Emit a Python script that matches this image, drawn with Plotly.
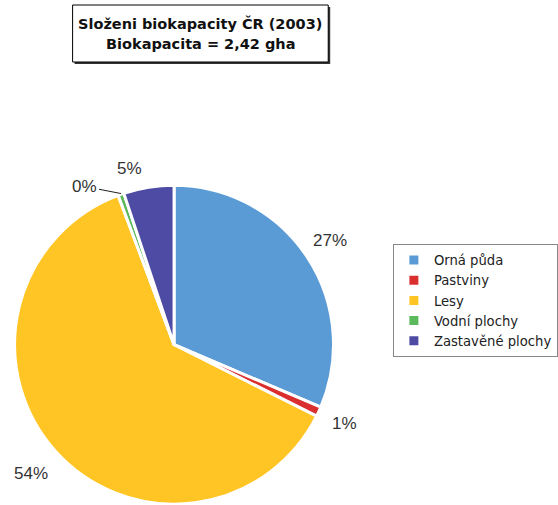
import math
import plotly.graph_objects as go

# Data (slice shares; labels as printed in the chart)
categories = ["Orná půda", "Pastviny", "Lesy", "Vodní plochy", "Zastavěné plochy"]
shares = [31.4, 1.0, 61.9, 0.6, 5.1]
label_texts = ["27%", "1%", "54%", "0%", "5%"]
colors = ["#5B9BD5", "#D9302F", "#FFC525", "#5BB85B", "#4E4BA5"]
title_line1 = "Složeni biokapacity ČR (2003)"
title_line2 = "Biokapacita = 2,42 gha"

# label placement style (extra radius in px, angle nudge in degrees, leader line?)
label_extra_r = [28, 28, 33, 0, 21]
label_nudge_deg = [0, 0, 0, 0, -5]
label_leader = [False, False, False, True, False]

W, H = 558, 505
CX, R = 175.0, 160.3
DOM_Y = [0.0, 2 * R / H]
CY = H - R  # pixel from top
DOM_X = [(CX - R) / W, (CX + R) / W]

fig = go.Figure()
fig.add_trace(go.Pie(
    labels=categories,
    values=shares,
    textinfo="none",
    marker=dict(colors=colors, line=dict(color="white", width=3)),
    sort=False,
    direction="clockwise",
    rotation=0,
    hoverinfo="skip",
    domain=dict(x=DOM_X, y=DOM_Y),
))

# slice labels placed at each slice's mid-angle (derived from the data)
total = sum(shares)
cum = 0.0
lab_font = dict(family="Liberation Sans, Arial", size=17, color="#333333")
for v, t, er, nd, lead in zip(shares, label_texts, label_extra_r, label_nudge_deg, label_leader):
    mid = (cum + v / 2) / total * 360.0
    cum += v
    if lead:
        a = math.radians(mid)
        px = CX + R * math.sin(a)
        py = CY - R * math.cos(a)
        fig.add_annotation(x=px / W, y=1 - py / H, xref="paper", yref="paper",
                           text=t, showarrow=True, arrowhead=0, arrowwidth=1,
                           arrowcolor="#222222", ax=-36, ay=-7, standoff=0,
                           font=lab_font)
    else:
        a = math.radians(mid + nd)
        rr = R + er
        px = CX + rr * math.sin(a)
        py = CY - rr * math.cos(a)
        fig.add_annotation(x=px / W, y=1 - py / H, xref="paper", yref="paper",
                           text=t, showarrow=False, xanchor="center", yanchor="middle",
                           font=lab_font)

# title box with shadow
fig.add_shape(type="rect", xref="paper", yref="paper",
              x0=75 / W, x1=332 / W, y0=1 - 64 / H, y1=1 - 7 / H,
              fillcolor="#333333", line=dict(width=0))
fig.add_shape(type="rect", xref="paper", yref="paper",
              x0=73 / W, x1=330 / W, y0=1 - 62 / H, y1=1 - 5 / H,
              fillcolor="white", line=dict(color="black", width=1))
fig.add_annotation(x=201.5 / W, y=1 - 23 / H, xref="paper", yref="paper",
                   text="<b>" + title_line1 + "</b>", showarrow=False,
                   xanchor="center", yanchor="middle",
                   font=dict(family="DejaVu Sans", size=14.5, color="#111111"))
fig.add_annotation(x=201.5 / W, y=1 - 44 / H, xref="paper", yref="paper",
                   text="<b>" + title_line2 + "</b>", showarrow=False,
                   xanchor="center", yanchor="middle",
                   font=dict(family="DejaVu Sans", size=14.5, color="#111111"))

fig.update_layout(
    width=W, height=H,
    margin=dict(l=0, r=0, t=0, b=0),
    paper_bgcolor="white",
    plot_bgcolor="white",
    showlegend=True,
    legend=dict(
        x=395 / W, y=1 - 244 / H, xanchor="left", yanchor="top",
        bgcolor="white", bordercolor="#888888", borderwidth=1,
        font=dict(family="DejaVu Sans", size=13.2, color="#222222"),
        traceorder="normal",
    ),
)

fig.write_html("out.html")
